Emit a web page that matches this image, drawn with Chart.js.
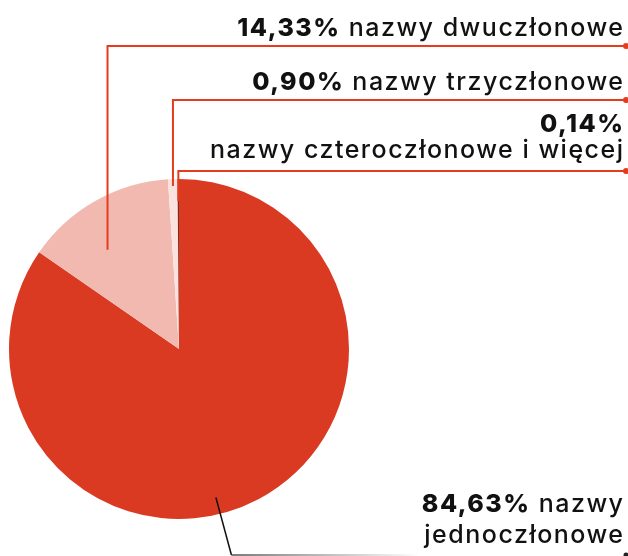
<!DOCTYPE html>
<html lang="pl">
<head>
<meta charset="utf-8">
<script src="https://cdn.jsdelivr.net/npm/chart.js@4.4.1/dist/chart.umd.min.js"></script>
<style>
  html, body { margin: 0; padding: 0; background: #fff; }
  #wrap { width: 628px; height: 556px; position: relative; }
</style>
</head>
<body>
<div id="wrap"><canvas id="pieChart" width="628" height="556"></canvas></div>
<script>
// dane
const categories = ['nazwy jednoczłonowe', 'nazwy dwuczłonowe', 'nazwy trzyczłonowe', 'nazwy czteroczłonowe i więcej'];
const shares = [84.63, 14.33, 0.90, 0.14];
const shareLabels = ['84,63%', '14,33%', '0,90%', '0,14%'];
const sliceColors = ['#db3a22', '#f1b9b0', '#fae3de', '#7e2a1c'];

// etykiety: linie tekstu i punkt zaczepienia (ułamek kąta wycinka, ułamek promienia)
const labelLayout = [
    { lines: [[shareLabels[0], ' nazwy'], ['', 'jednoczłonowe']], baselines: [512, 543], lineY: 555, frac: 0.545, r: 0.9, dark: true },
    { lines: [[shareLabels[1], ' nazwy dwuczłonowe']], baselines: [36], lineY: 46, frac: 0.38, r: 0.72 },
    { lines: [[shareLabels[2], ' nazwy trzyczłonowe']], baselines: [90], lineY: 100, frac: 0.5, r: 0.96 },
    { lines: [[shareLabels[3], ''], ['', 'nazwy czteroczłonowe i więcej']], baselines: [132, 158], lineY: 171, frac: 0.5, r: 0.87 }
];

const FONT = 'Inter, "Open Sans", sans-serif';
const TEXT_RIGHT = 623;
const DOT_X = 626;
const SPACING = 1.5;

const leaderPlugin = {
    id: 'leaders',
    afterDraw(chart) {
        const ctx = chart.ctx;
        const meta = chart.getDatasetMeta(0);
        meta.data.forEach((arc, i) => {
            const cfg = labelLayout[i];
            const p = arc.getProps(['x', 'y', 'startAngle', 'endAngle', 'outerRadius'], true);
            const ang = p.startAngle + (p.endAngle - p.startAngle) * cfg.frac;
            const ax = p.x + Math.cos(ang) * p.outerRadius * cfg.r;
            const ay = p.y + Math.sin(ang) * p.outerRadius * cfg.r;

            ctx.save();
            if (cfg.dark) {
                const bx = ax + (cfg.lineY - ay) * 0.27;
                ctx.strokeStyle = '#111';
                ctx.lineWidth = 1.5;
                ctx.beginPath();
                ctx.moveTo(ax, ay);
                ctx.lineTo(bx, cfg.lineY);
                ctx.stroke();
                const grad = ctx.createLinearGradient(bx, 0, 420, 0);
                grad.addColorStop(0, 'rgba(60,60,60,0.9)');
                grad.addColorStop(1, 'rgba(60,60,60,0)');
                ctx.strokeStyle = grad;
                ctx.beginPath();
                ctx.moveTo(bx, cfg.lineY);
                ctx.lineTo(420, cfg.lineY);
                ctx.stroke();
                ctx.fillStyle = '#222';
                ctx.beginPath();
                ctx.arc(DOT_X, cfg.lineY, 2.5, 0, Math.PI * 2);
                ctx.fill();
            } else {
                ctx.strokeStyle = '#e63c1e';
                ctx.lineWidth = 2;
                ctx.beginPath();
                ctx.moveTo(ax, ay);
                ctx.lineTo(ax, cfg.lineY);
                ctx.lineTo(DOT_X, cfg.lineY);
                ctx.stroke();
                ctx.fillStyle = '#e63c1e';
                ctx.beginPath();
                ctx.arc(DOT_X, cfg.lineY, 3, 0, Math.PI * 2);
                ctx.fill();
            }

            ctx.fillStyle = '#111';
            ctx.textBaseline = 'alphabetic';
            ctx.textAlign = 'left';
            ctx.letterSpacing = SPACING + 'px';
            cfg.lines.forEach((ln, k) => {
                const boldFont = '800 25px ' + FONT;
                const normFont = '500 25px ' + FONT;
                ctx.font = boldFont;
                const wb = ctx.measureText(ln[0]).width;
                ctx.font = normFont;
                const wn = ctx.measureText(ln[1]).width;
                // ostatni odstęp liter nie liczy się do prawej krawędzi
                let x = TEXT_RIGHT + SPACING - wb - wn;
                ctx.font = boldFont;
                ctx.fillText(ln[0], x, cfg.baselines[k]);
                ctx.font = normFont;
                ctx.fillText(ln[1], x + wb, cfg.baselines[k]);
            });
            ctx.restore();
        });
    }
};

new Chart(document.getElementById('pieChart'), {
    type: 'pie',
    data: {
        labels: categories,
        datasets: [{ data: shares, backgroundColor: sliceColors, borderWidth: 0, hoverOffset: 0 }]
    },
    options: {
        responsive: false,
        animation: false,
        layout: { padding: { left: 9, top: 179, right: 279, bottom: 37 } },
        plugins: {
            legend: { display: false },
            tooltip: { enabled: false }
        }
    },
    plugins: [leaderPlugin]
});
</script>
</body>
</html>
